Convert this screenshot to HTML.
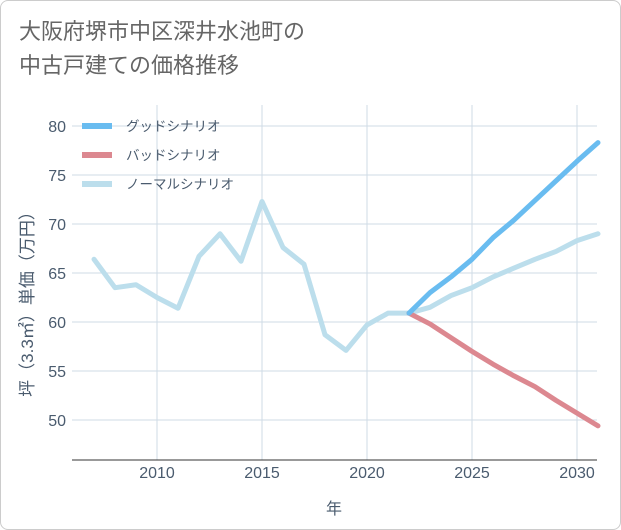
<!DOCTYPE html>
<html><head><meta charset="utf-8"><style>
body{margin:0;background:#fff;}
#wrap{position:relative;width:619px;height:528px;border:1px solid #ccc;border-radius:8px;background:#fff;font-family:"Liberation Sans","Noto Sans CJK JP",sans-serif;overflow:hidden}
.title{position:absolute;left:18px;top:14px;font-size:22px;line-height:34px;color:#666;}
svg text{font-family:"Liberation Sans","Noto Sans CJK JP",sans-serif;}
</style></head><body>
<div id="wrap">
<div class="title">大阪府堺市中区深井水池町の<br>中古戸建ての価格推移</div>
<svg id="chart" width="621" height="530" style="position:absolute;left:-1px;top:-1px"></svg>
</div>
<script>
const normalYears=[2007,2008,2009,2010,2011,2012,2013,2014,2015,2016,2017,2018,2019,2020,2021,2022,2023,2024,2025,2026,2027,2028,2029,2030,2031];
const normalVals=[66.4,63.5,63.8,62.5,61.4,66.7,69.0,66.2,72.3,67.6,65.9,58.7,57.1,59.7,60.9,60.9,61.5,62.7,63.5,64.6,65.5,66.4,67.2,68.3,69.0];
const scenYears=[2022,2023,2024,2025,2026,2027,2028,2029,2030,2031];
const goodVals=[60.9,63.0,64.6,66.4,68.6,70.4,72.4,74.4,76.4,78.3];
const badVals=[60.9,59.8,58.4,57.0,55.7,54.5,53.4,52.0,50.7,49.4];
const xTicks=[2010,2015,2020,2025,2030];
const yTicks=[50,55,60,65,70,75,80];
const NS='http://www.w3.org/2000/svg';
const svg=document.getElementById('chart');
const X0=72,X1=597,Y0=105,Y1=460;
const TXT='#4a5b6e';
const xs=y=>157+(y-2010)*21;
const ys=v=>126+(80-v)*9.8;
function el(t,a){const e=document.createElementNS(NS,t);for(const k in a)e.setAttribute(k,a[k]);svg.appendChild(e);return e;}
for(const t of xTicks){const l=el('line',{x1:xs(t),x2:xs(t),y1:Y0,y2:Y1,stroke:'#cfdbe6','stroke-width':1});


const tx=el('text',{x:xs(t),y:478,'font-size':16,fill:TXT,'text-anchor':'middle'});tx.textContent=t;

}
for(const t of yTicks){const l=el('line',{x1:X0,x2:X1,y1:ys(t),y2:ys(t),stroke:'#cfdbe6','stroke-width':1});


const tx=el('text',{x:66,y:ys(t)+6,'font-size':16,fill:TXT,'text-anchor':'end'});tx.textContent=t;

}
const ax=el('line',{x1:X0,x2:X1,y1:Y1,y2:Y1,stroke:'#333','stroke-width':1});


function series(years,vals,color,name){const d=years.map((y,i)=>(i?'L':'M')+xs(y)+','+ys(vals[i])).join(' ');
const p=el('path',{d:d,fill:'none',stroke:color,'stroke-width':5,'stroke-linejoin':'round','stroke-linecap':'round'});

}
series(normalYears,normalVals,'#bcdeec','normal-scenario-line');
series(scenYears,badVals,'#dc8890','bad-scenario-line');
series(scenYears,goodVals,'#69bcf0','good-scenario-line');
const leg=[['グッドシナリオ','#69bcf0'],['バッドシナリオ','#dc8890'],['ノーマルシナリオ','#bcdeec']];
leg.forEach((L,i)=>{const y=126+i*29;
const r=el('rect',{x:82,y:y-3,width:30,height:6,fill:L[1]});


const t=el('text',{x:126,y:y+5,'font-size':13.5,fill:TXT});t.textContent=L[0];

});
const xt=el('text',{x:334,y:514,'font-size':16,fill:TXT,'text-anchor':'middle'});xt.textContent='年';


const yt=el('text',{x:0,y:0,'font-size':17,fill:TXT,'text-anchor':'middle',transform:'translate(33,300) rotate(-90)'});yt.textContent='坪（3.3㎡）単価（万円）';


</script>
</body></html>
